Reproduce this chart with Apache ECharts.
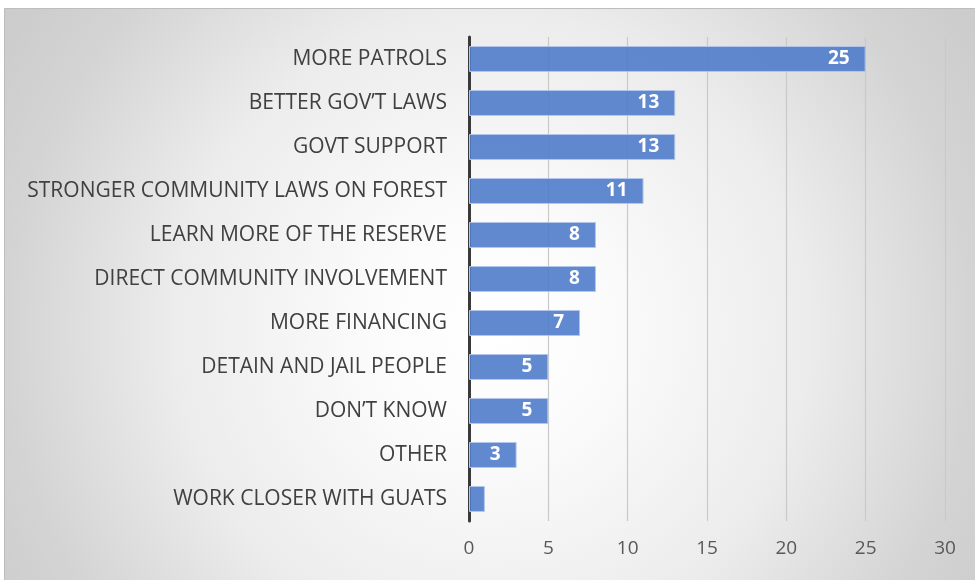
<!DOCTYPE html>
<html>
<head>
<meta charset="utf-8">
<script src="https://cdn.jsdelivr.net/npm/echarts@6/dist/echarts.min.js"></script>
<style>
  html, body { margin: 0; padding: 0; background: #ffffff; }
  #chart { width: 975px; height: 580px; }
</style>
</head>
<body>
<div id="chart"></div>
<script>
// Responses, listed top to bottom
const categories = [
  'MORE PATROLS',
  'BETTER GOV\u2019T LAWS',
  'GOVT SUPPORT',
  'STRONGER COMMUNITY LAWS ON FOREST',
  'LEARN MORE OF THE RESERVE',
  'DIRECT COMMUNITY INVOLVEMENT',
  'MORE FINANCING',
  'DETAIN AND JAIL PEOPLE',
  'DON\u2019T KNOW',
  'OTHER',
  'WORK CLOSER WITH GUATS'
];
const counts = [25, 13, 13, 11, 8, 8, 7, 5, 5, 3, 1];
const xTicks = [0, 5, 10, 15, 20, 25, 30];

const chart = echarts.init(document.getElementById('chart'), null, { renderer: 'canvas' });

// Category axis runs bottom-up, so reverse to keep the first item on top
const yCats = categories.slice().reverse();
const yVals = counts.slice().reverse();

chart.setOption({
  animation: false,
  backgroundColor: '#ffffff',
  graphic: [{
    // chart-area panel: soft white-to-grey radial fill with a thin frame
    type: 'rect',
    z: -10,
    silent: true,
    shape: { x: 4.5, y: 8.5, width: 975, height: 575 },
    style: {
      fill: {
        type: 'radial',
        global: true,
        x: 490, y: 330, r: 600,
        colorStops: [
          { offset: 0, color: '#ffffff' },
          { offset: 0.2, color: '#fbfbfb' },
          { offset: 0.53, color: '#ececec' },
          { offset: 0.8, color: '#d4d4d4' },
          { offset: 0.93, color: '#cdcdcd' },
          { offset: 1, color: '#cbcbcb' }
        ]
      },
      stroke: '#bdbdbd',
      lineWidth: 1
    }
  }],
  grid: {
    left: 469,
    right: 30,
    top: 37,
    bottom: 59,
    containLabel: false
  },
  xAxis: {
    type: 'value',
    min: xTicks[0],
    max: xTicks[xTicks.length - 1],
    interval: 5,
    axisLine: { show: false },
    axisTick: { show: false },
    splitLine: { show: true, lineStyle: { color: '#c9c9c9', width: 1.2 } },
    axisLabel: {
      color: '#595959',
      fontFamily: 'Open Sans',
      fontSize: 19,
      margin: 18
    }
  },
  yAxis: {
    type: 'category',
    data: yCats,
    axisLine: { show: true, lineStyle: { color: '#3a3a3a', width: 3 } },
    axisTick: { show: false },
    axisLabel: {
      color: '#404040',
      fontFamily: 'Open Sans',
      fontSize: 21,
      margin: 22,
      padding: [3, 0, 0, 0]
    }
  },
  series: [{
    type: 'bar',
    data: yVals,
    barWidth: '59%',
    itemStyle: {
      color: 'rgba(80,124,203,0.9)',
      borderColor: '#b3c6e8',
      borderWidth: 1
    },
    label: {
      show: true,
      position: 'insideRight',
      distance: 16,
      color: '#ffffff',
      fontFamily: 'Open Sans',
      fontWeight: 'bold',
      fontSize: 19,
      // bars too short to hold their number stay unlabeled
      formatter: (p) => (p.value >= 2 ? String(p.value) : '')
    }
  }]
});
</script>
</body>
</html>
